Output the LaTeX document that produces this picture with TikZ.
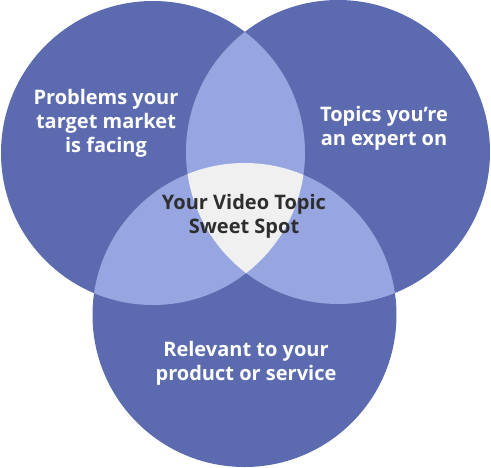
\documentclass[tikz,border=0pt]{standalone}
\usepackage{fontspec}
\setmainfont{Open Sans}
\begin{document}
\begin{tikzpicture}[x=1pt,y=-1pt,
  lbl/.style={align=center,font=\bfseries\fontsize{20}{24}\selectfont,text=white,inner sep=0pt},
  clbl/.style={lbl,text=black!82}]
\definecolor{dark}{HTML}{5C6BAF}
\definecolor{light}{HTML}{97A6E0}
\definecolor{core}{HTML}{F0F0F0}
\useasboundingbox (0,0) rectangle (491,467);
\def\cA{(153,153) circle (152)}
\def\cB{(338,152) circle (152)}
\def\cC{(244.5,315) circle (152)}
\fill[dark] \cA;
\fill[dark] \cB;
\fill[dark] \cC;
\begin{scope}\clip \cA; \fill[light] \cB; \fill[light] \cC; \end{scope}
\begin{scope}\clip \cB; \fill[light] \cC; \end{scope}
\begin{scope}\clip \cA; \clip \cB; \fill[core] \cC; \end{scope}
\node[lbl] (a) at (106,123) {Problems your\\target market\\is facing};
\node[lbl] (b) at (384,128) {Topics you’re\\an expert on};
\node[lbl] (c) at (246,363) {Relevant to your\\product or service};
\node[clbl] (d) at (244,216) {Your Video Topic\\Sweet Spot};
\end{tikzpicture}
\end{document}
